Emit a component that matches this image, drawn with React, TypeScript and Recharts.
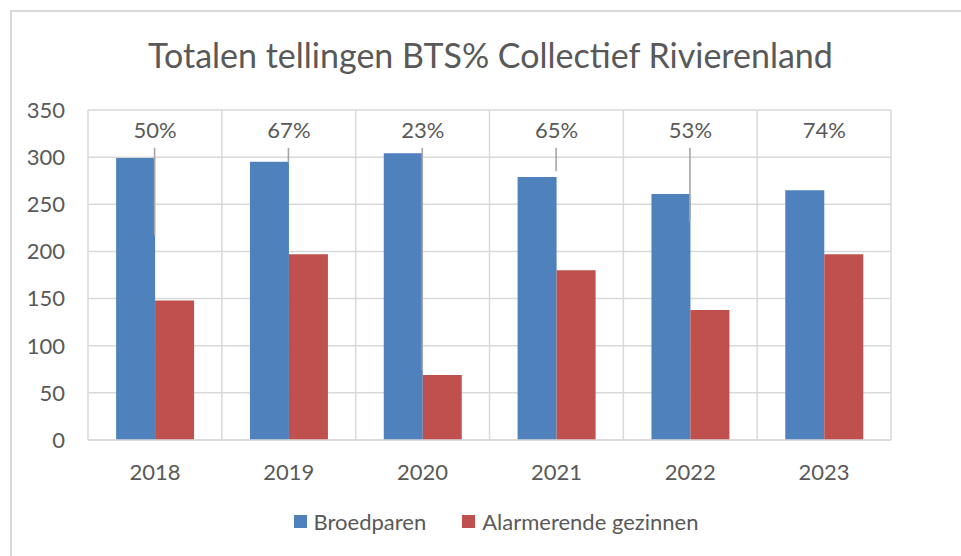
import React from 'react';
import { BarChart, Bar, XAxis, YAxis, CartesianGrid, Legend, LabelList } from 'recharts';

const years = ['2018', '2019', '2020', '2021', '2022', '2023'];
const broedparen = [299, 295, 304, 279, 261, 265];
const alarmerend = [148, 197, 69, 180, 138, 197];
const pctLabels = ['50%', '67%', '23%', '65%', '53%', '74%'];
// where each leader line ends, in axis units (null = no leader line)
const leaderTo: (number | null)[] = [217, 294, 74, 285, 231, null];
const yTicks = [0, 50, 100, 150, 200, 250, 300, 350];

const BLUE = '#4F81BD';
const RED = '#C0504D';
const TEXT = '#595959';
const GRID = '#d9d9d9';
const FONT = 'Lato, "Open Sans", sans-serif';

const data = years.map((year, i) => ({
    year,
    broedparen: broedparen[i],
    alarmerend: alarmerend[i],
    pct: pctLabels[i],
}));

const PctLabel = (props: any) => {
    const vb = props.viewBox ?? props;
    const x = Number(vb.x);
    const y = Number(vb.y);
    const width = Number(vb.width);
    const height = Number(vb.height);
    const i = props.index as number;
    const value = broedparen[i];
    const bottom = y + height;
    const perUnit = height / value;
    const cx = x + width;
    const ly = bottom - 329 * perUnit;
    const end = leaderTo[i];
    return (
        <g>
            <text x={cx} y={ly} dy="0.35em" textAnchor="middle" fill={TEXT} fontSize={22} fontFamily={FONT}>
                {pctLabels[i]}
            </text>
            {end !== null && (
                <line x1={cx - 0.5} y1={ly + 18} x2={cx - 0.5} y2={bottom - end * perUnit} stroke="#a6a6a6" strokeWidth={1.6} />
            )}
        </g>
    );
};

const LegendContent = () => (
    <div style={{ display: 'flex', justifyContent: 'center', alignItems: 'center', fontFamily: FONT, fontSize: 22, color: TEXT }}>
        <span style={{ display: 'inline-block', width: 13, height: 13, background: BLUE, marginRight: 7 }} />
        <span style={{ marginRight: 36 }}>Broedparen</span>
        <span style={{ display: 'inline-block', width: 13, height: 13, background: RED, marginRight: 7 }} />
        <span>Alarmerende gezinnen</span>
    </div>
);

export default function App() {
    return (
        <div style={{ position: 'fixed', left: 0, top: 0, width: 961, height: 556, overflow: 'hidden', background: '#fff' }}>
            <div style={{ position: 'absolute', left: 10, top: 10, width: 1000, height: 600, border: `2px solid ${GRID}` }} />
            <div style={{ position: 'absolute', left: 0, top: 34, width: 981, textAlign: 'center', fontFamily: FONT, fontSize: 34, color: TEXT }}>
                Totalen tellingen BTS% Collectief Rivierenland
            </div>
            <div style={{ position: 'absolute', left: 0, top: 0 }}>
                <BarChart
                    width={961}
                    height={556}
                    data={data}
                    margin={{ top: 110, right: 70, bottom: 56, left: 0 }}
                    barCategoryGap="21%"
                    barGap={0}
                >
                    <CartesianGrid
                        stroke={GRID}
                        strokeWidth={1.5}
                        verticalCoordinatesGenerator={({ offset }: any) =>
                            years.map((_, i) => offset.left + (i * offset.width) / years.length).concat(offset.left + offset.width)
                        }
                    />
                    <XAxis
                        dataKey="year"
                        height={60}
                        axisLine={{ stroke: GRID, strokeWidth: 1.5 }}
                        tickLine={false}
                        tickMargin={18}
                        tick={{ fill: TEXT, fontSize: 22, fontFamily: FONT }}
                    />
                    <YAxis
                        width={88}
                        domain={[0, 350]}
                        ticks={yTicks}
                        axisLine={false}
                        tickLine={false}
                        tickMargin={17}
                        tick={{ fill: TEXT, fontSize: 22, fontFamily: FONT }}
                    />
                    <Legend
                        verticalAlign="middle"
                        layout="horizontal"
                        content={<LegendContent />}
                        wrapperStyle={{ top: 508, left: 0, width: 992 }}
                    />
                    <Bar dataKey="broedparen" name="Broedparen" fill={BLUE} isAnimationActive={false}>
                        <LabelList dataKey="pct" content={<PctLabel />} />
                    </Bar>
                    <Bar dataKey="alarmerend" name="Alarmerende gezinnen" fill={RED} isAnimationActive={false} />
                </BarChart>
            </div>
        </div>
    );
}
